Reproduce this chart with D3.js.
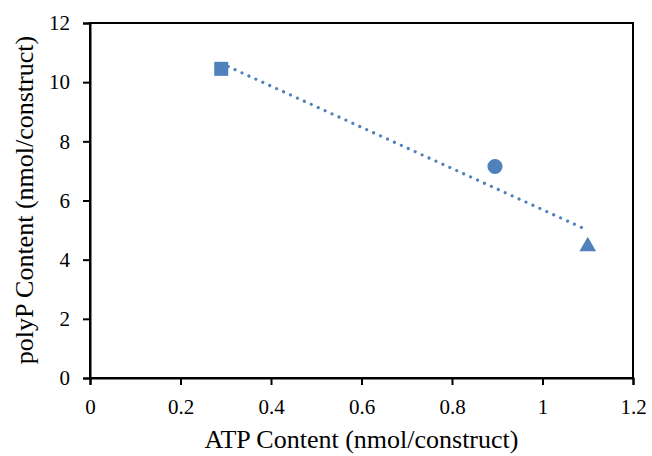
<!DOCTYPE html>
<html>
<head>
<meta charset="utf-8">
<script src="https://cdn.jsdelivr.net/npm/d3@7"></script>
<style>
	body { margin: 0; background: #fff; }
	text { font-family: "Liberation Serif", "Times New Roman", serif; fill: #000; }
</style>
</head>
<body>
<script>
const atp = [0.29, 0.895, 1.1];
const polyP = [10.45, 7.15, 4.45];
const shapes = ["square", "circle", "triangle"];
const xTicks = [0, 0.2, 0.4, 0.6, 0.8, 1, 1.2];
const yTicks = [0, 2, 4, 6, 8, 10, 12];

const config = {
	width: 652,
	height: 456,
	left: 90,
	right: 633,
	top: 23,
	bottom: 378,
	color: "#4F81BD"
};

const svg = d3
	.select("body")
	.append("svg")
	.attr("width", config.width)
	.attr("height", config.height);

const x = d3.scaleLinear().domain([0, 1.2]).range([config.left, config.right]);
const y = d3.scaleLinear().domain([0, 12]).range([config.bottom, config.top]);

// plot border
svg.append("rect")
	.attr("x", config.left)
	.attr("y", config.top)
	.attr("width", config.right - config.left)
	.attr("height", config.bottom - config.top)
	.attr("fill", "none")
	.attr("stroke", "#000")
	.attr("stroke-width", 2);

const xAxis = svg.append("g")
	.attr("transform", `translate(0,${config.bottom})`)
	.call(d3.axisBottom(x).tickValues(xTicks).tickSize(7).tickPadding(14).tickFormat(d3.format("")));
const yAxis = svg.append("g")
	.attr("transform", `translate(${config.left},0)`)
	.call(d3.axisLeft(y).tickValues(yTicks).tickSize(7).tickPadding(13).tickFormat(d3.format("")));

[xAxis, yAxis].forEach(g => {
	g.attr("font-family", null).attr("font-size", null);
	g.select(".domain").attr("stroke", "#000").attr("stroke-width", 2);
	g.selectAll(".tick line").attr("stroke", "#000").attr("stroke-width", 2);
	g.selectAll(".tick text").attr("font-size", 21);
});

// linear trend line (least squares on the data)
const mx = d3.mean(atp), my = d3.mean(polyP);
const sxy = d3.sum(atp, (d, i) => (d - mx) * (polyP[i] - my));
const sxx = d3.sum(atp, d => (d - mx) * (d - mx));
const slope = sxy / sxx;
const icpt = my - slope * mx;
const xExt = d3.extent(atp);

svg.append("line")
	.attr("x1", x(xExt[0]))
	.attr("y1", y(icpt + slope * xExt[0]))
	.attr("x2", x(xExt[1]))
	.attr("y2", y(icpt + slope * xExt[1]))
	.attr("stroke", config.color)
	.attr("stroke-width", 3.2)
	.attr("stroke-linecap", "round")
	.attr("stroke-dasharray", "0.01 7.6");

const symbolType = {
	square: d3.symbolSquare,
	circle: d3.symbolCircle,
	triangle: d3.symbolTriangle
};
const symbolSize = { square: 196, circle: 180, triangle: 120 };

atp.forEach((d, i) => {
	svg.append("path")
		.attr("d", d3.symbol().type(symbolType[shapes[i]]).size(symbolSize[shapes[i]])())
		.attr("transform", `translate(${x(d)},${y(polyP[i])})`)
		.attr("fill", config.color);
});

svg.append("text")
	.attr("x", (config.left + config.right) / 2)
	.attr("y", 448)
	.attr("text-anchor", "middle")
	.attr("font-size", 26)
	.text("ATP Content (nmol/construct)");

svg.append("text")
	.attr("transform", `translate(33,200) rotate(-90)`)
	.attr("text-anchor", "middle")
	.attr("font-size", 26)
	.text("polyP Content (nmol/construct)");
</script>
</body>
</html>
